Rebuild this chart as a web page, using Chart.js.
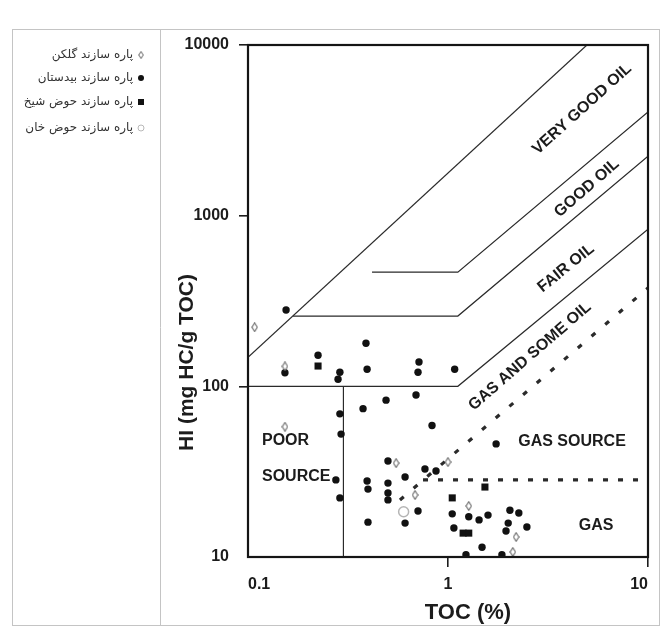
<!DOCTYPE html>
<html>
<head>
<meta charset="utf-8">
<script src="https://cdn.jsdelivr.net/npm/chart.js@4/dist/chart.umd.min.js"></script>
<style>
  html, body { margin: 0; padding: 0; background: #fff; }
  canvas { display: block; }
</style>
</head>
<body>
<canvas id="c" width="662" height="627"></canvas>
<script>
// Members of the Nayband Formation (legend order)
const memberNames = ['پاره سازند گلکن', 'پاره سازند بیدستان', 'پاره سازند حوض شیخ', 'پاره سازند حوض خان'];

// Gelkan member samples: TOC (%) and HI (mg HC/g TOC)
const gelkanTOC = [0.108, 0.153, 0.153, 0.55, 1.0, 0.684, 1.27, 2.19, 2.11];
const gelkanHI  = [222, 131, 58, 35.5, 36, 23.1, 19.9, 13.1, 10.7];

// Bidestan member samples
const bidestanTOC = [0.155, 0.153, 0.224, 0.288, 0.282, 0.389, 0.394, 0.716, 0.708, 1.08,
                     0.49, 0.376, 0.692, 0.288, 0.292, 0.832, 1.74, 0.501, 0.275, 0.288,
                     0.394, 0.398, 0.501, 0.501, 0.501, 0.61, 0.767, 0.871, 0.708, 0.61,
                     0.398, 1.05, 1.27, 1.43, 1.585, 2.04, 2.26, 2.0, 2.48, 1.07,
                     1.95, 1.48, 1.23, 1.86];
const bidestanHI  = [280, 120, 152, 121, 110, 179, 126, 139, 121, 126,
                     83, 74, 89, 69, 52.5, 59, 46, 36.5, 28.3, 22.2,
                     27.9, 25, 27.1, 23.7, 21.6, 29.4, 32.8, 31.9, 18.6, 15.8,
                     16, 17.9, 17.2, 16.5, 17.6, 18.8, 18.1, 15.8, 15, 14.8,
                     14.2, 11.4, 10.3, 10.3];

// Howz-e-Sheikh member samples
const sheikhTOC = [0.224, 1.53, 1.05, 1.19, 1.27];
const sheikhHI  = [131.5, 25.7, 22.2, 13.8, 13.8];

// Howz-e-Khan member samples
const khanTOC = [0.60];
const khanHI  = [18.4];

// Source-quality zone boundaries (TOC, HI vertices)
const veryGoodOilTOC = [0.1, 4.95];
const veryGoodOilHI  = [148, 10000];
const goodOilTOC = [0.417, 1.12, 10];
const goodOilHI  = [467, 467, 4050];
const fairOilTOC = [0.168, 1.12, 10];
const fairOilHI  = [258, 258, 2230];
const gasOilTOC = [0.1, 1.12, 10];
const gasOilHI  = [100, 100, 834];
const poorSourceTOC = [0.3, 0.3];
const poorSourceHI  = [10, 100];
const gasSourceTOC = [0.575, 10];
const gasSourceHI  = [21.6, 377];
const gasTOC = [0.75, 9.12];
const gasHI  = [28.3, 28.3];

// Axis ticks
const xTicks = [0.1, 1, 10];
const xTickLabels = ['0.1', '1', '10'];
const yTicks = [10, 100, 1000, 10000];
const yTickLabels = ['10', '100', '1000', '10000'];

// Zone names with their anchor point (TOC, HI) and text angle
const zoneNames = ['VERY GOOD OIL', 'GOOD OIL', 'FAIR OIL', 'GAS AND SOME OIL', 'GAS SOURCE', 'GAS', 'POOR', 'SOURCE'];
const zoneTOC = [4.68, 4.95, 3.89, 2.57, 4.17, 5.5, 0.1175, 0.1175];
const zoneHI  = [4213, 1451, 493, 150, 47.2, 15.2, 48.4, 29.4];
const zoneAngle = [-42, -41, -39, -41, 0, 0, 0, 0];

const pts = (xs, ys) => xs.map((x, i) => ({ x: x, y: ys[i] }));

// Tall open diamond used for the Gelkan samples
function diamondImage(w, h) {
  const cv = document.createElement('canvas');
  cv.width = w; cv.height = h;
  const g = cv.getContext('2d');
  g.fillStyle = '#fff';
  g.strokeStyle = '#6a6a6a';
  g.lineWidth = 1.1;
  g.beginPath();
  g.moveTo(w / 2, 0.7);
  g.lineTo(w - 0.8, h / 2);
  g.lineTo(w / 2, h - 0.7);
  g.lineTo(0.8, h / 2);
  g.closePath();
  g.fill();
  g.stroke();
  return cv;
}
const diamond = diamondImage(7, 10);

const FONT = "'Liberation Sans', Arial, sans-serif";
const INK = '#1c1c1c';

function boundary(xs, ys, dash, width) {
  return {
    data: pts(xs, ys),
    showLine: true,
    pointRadius: 0,
    pointHoverRadius: 0,
    borderColor: '#2a2a2a',
    borderWidth: width || 1.2,
    borderDash: dash || [],
    borderCapStyle: 'butt',
    fill: false,
    tension: 0
  };
}

// Figure frame, plot frame, axis titles and zone names
const decor = {
  id: 'decor',
  beforeDraw(chart) {
    const c = chart.ctx;
    c.save();
    c.strokeStyle = '#c4c4c4';
    c.lineWidth = 1;
    c.strokeRect(12.5, 29.5, 647, 596);
    c.beginPath();
    c.moveTo(160.5, 29.5);
    c.lineTo(160.5, 625.5);
    c.stroke();
    c.restore();
  },
  afterDatasetsDraw(chart) {
    const c = chart.ctx;
    const a = chart.chartArea;
    const xs = chart.scales.x, ys = chart.scales.y;
    c.save();
    c.strokeStyle = '#151515';
    c.lineWidth = 2.2;
    c.strokeRect(a.left, a.top, a.right - a.left, a.bottom - a.top);

    c.fillStyle = INK;
    c.font = 'bold 16px ' + FONT;
    c.textBaseline = 'middle';
    zoneNames.forEach((t, i) => {
      const px = xs.getPixelForValue(zoneTOC[i]);
      const py = ys.getPixelForValue(zoneHI[i]);
      c.save();
      c.translate(px, py);
      c.rotate(zoneAngle[i] * Math.PI / 180);
      c.textAlign = (t === 'POOR' || t === 'SOURCE') ? 'left' : 'center';
      c.fillText(t, 0, 0);
      c.restore();
    });

    // axis titles
    c.textAlign = 'center';
    c.font = 'bold 22px ' + FONT;
    c.fillText('TOC (%)', a.left + 0.55 * (a.right - a.left), a.bottom + 56);
    c.font = 'bold 21px ' + FONT;
    c.save();
    c.translate(a.left - 61, a.top + 0.62 * (a.bottom - a.top));
    c.rotate(-Math.PI / 2);
    c.fillText('HI (mg HC/g TOC)', 0, 0);
    c.restore();
    c.restore();
  }
};

// Legend in the left panel: Persian names with the marker on their right
const sideLegend = {
  id: 'sideLegend',
  afterDraw(chart) {
    const c = chart.ctx;
    const rows = [55, 78, 102, 128];
    c.save();
    c.font = "12px 'DejaVu Sans', sans-serif";
    c.fillStyle = '#333';
    c.textAlign = 'right';
    c.textBaseline = 'middle';
    c.direction = 'rtl';
    memberNames.forEach((name, i) => {
      const y = rows[i];
      c.fillText(name, 133, y);
      const mx = 141;
      if (i === 0) {
        c.drawImage(diamond, mx - 3, y - 4, 6, 8);
      } else if (i === 1) {
        c.fillStyle = '#111';
        c.beginPath(); c.arc(mx, y, 3, 0, Math.PI * 2); c.fill();
        c.fillStyle = '#333';
      } else if (i === 2) {
        c.fillStyle = '#111';
        c.fillRect(mx - 3, y - 3, 6, 6);
        c.fillStyle = '#333';
      } else {
        c.strokeStyle = '#b8b8b8';
        c.lineWidth = 1;
        c.beginPath(); c.arc(mx, y, 3, 0, Math.PI * 2); c.stroke();
      }
    });
    c.restore();
  }
};

const tickColor = hide => ctx => (ctx.tick && ctx.tick.value === hide) ? 'rgba(0,0,0,0)' : '#1c1c1c';

new Chart(document.getElementById('c'), {
  type: 'scatter',
  data: {
    datasets: [
      {
        label: memberNames[0],
        data: pts(gelkanTOC, gelkanHI),
        pointStyle: diamond,
        pointRadius: 5
      },
      {
        label: memberNames[1],
        data: pts(bidestanTOC, bidestanHI),
        pointStyle: 'circle',
        pointRadius: 3.7,
        backgroundColor: '#111',
        borderColor: '#111',
        borderWidth: 0
      },
      {
        label: memberNames[2],
        data: pts(sheikhTOC, sheikhHI),
        pointStyle: 'rect',
        pointRadius: 5,
        backgroundColor: '#111',
        borderColor: '#111',
        borderWidth: 0
      },
      {
        label: memberNames[3],
        data: pts(khanTOC, khanHI),
        pointStyle: 'circle',
        pointRadius: 5,
        backgroundColor: '#fff',
        borderColor: '#b5b5b5',
        borderWidth: 1.5
      },
      boundary(veryGoodOilTOC, veryGoodOilHI),
      boundary(goodOilTOC, goodOilHI),
      boundary(fairOilTOC, fairOilHI),
      boundary(gasOilTOC, gasOilHI),
      boundary(poorSourceTOC, poorSourceHI),
      boundary(gasSourceTOC, gasSourceHI, [5, 13], 3.2),
      boundary(gasTOC, gasHI, [5, 10], 3.4)
    ]
  },
  options: {
    responsive: false,
    animation: false,
    devicePixelRatio: 1,
    layout: { padding: { left: 0, top: 45, right: 14, bottom: 0 } },
    plugins: {
      legend: { display: false },
      tooltip: { enabled: false }
    },
    scales: {
      x: {
        type: 'logarithmic',
        min: 0.1,
        max: 10,
        afterBuildTicks: s => { s.ticks = xTicks.map(v => ({ value: v })); },
        afterFit: s => { s.height = 70; },
        border: { display: false },
        grid: { drawOnChartArea: false, drawTicks: true, tickLength: 10, lineWidth: 1.6, color: tickColor(0.1) },
        ticks: {
          autoSkip: false,
          maxRotation: 0,
          align: 'inner',
          padding: 8,
          color: INK,
          font: { family: FONT, weight: 'bold', size: 16 },
          callback: v => xTickLabels[xTicks.indexOf(v)]
        }
      },
      y: {
        type: 'logarithmic',
        min: 10,
        max: 10000,
        afterBuildTicks: s => { s.ticks = yTicks.map(v => ({ value: v })); },
        afterFit: s => { s.width = 248; },
        border: { display: false },
        grid: { drawOnChartArea: false, drawTicks: true, tickLength: 9, lineWidth: 1.6, color: tickColor(10) },
        ticks: {
          autoSkip: false,
          padding: 10,
          color: INK,
          font: { family: FONT, weight: 'bold', size: 16 },
          callback: v => yTickLabels[yTicks.indexOf(v)]
        }
      }
    }
  },
  plugins: [decor, sideLegend]
});
</script>
</body>
</html>
